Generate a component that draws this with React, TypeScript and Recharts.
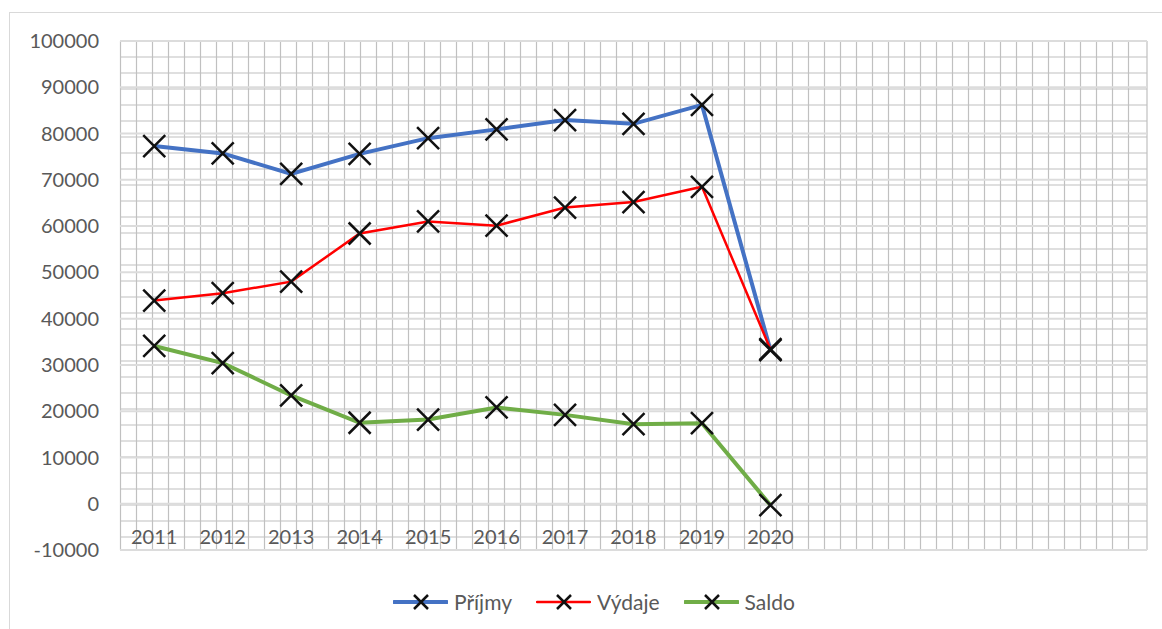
import React from 'react';
import { LineChart, Line, XAxis, YAxis, CartesianGrid } from 'recharts';

const years = ['2011', '2012', '2013', '2014', '2015', '2016', '2017', '2018', '2019', '2020'];
const emptySlots = 5;
const prijmy = [77300, 75700, 71300, 75600, 79000, 80900, 82900, 82100, 86200, 33200];
const vydaje = [43900, 45500, 48000, 58400, 61000, 60100, 64000, 65200, 68500, 33400];
const saldo = [34100, 30400, 23400, 17500, 18200, 20800, 19200, 17200, 17400, -300];
const yTicks = [-10000, 0, 10000, 20000, 30000, 40000, 50000, 60000, 70000, 80000, 90000, 100000];

const series = [
  { key: 'prijmy', name: 'Příjmy', color: '#4472C4', width: 4 },
  { key: 'vydaje', name: 'Výdaje', color: '#FF0000', width: 2.5 },
  { key: 'saldo', name: 'Saldo', color: '#70AD47', width: 4 },
];

const data = [
  ...years.map((year, i) => ({ year, prijmy: prijmy[i], vydaje: vydaje[i], saldo: saldo[i] })),
  ...Array.from({ length: emptySlots }, () => ({ year: '' })),
];

const FONT = 'Lato, "Open Sans", sans-serif';
const TEXT = '#595959';
const PAPER = 16;
const PLOT_W = 1027;
const HALF_BAND = PLOT_W / data.length / 2;

const CrossDot = (props: any) => {
  const { cx, cy, index } = props;
  if (cx == null || cy == null) return <g key={index} />;
  const r = 11;
  return (
    <path
      key={index}
      d={`M${cx - r},${cy - r}L${cx + r},${cy + r}M${cx - r},${cy + r}L${cx + r},${cy - r}`}
      stroke="#111"
      strokeWidth={2.5}
      fill="none"
    />
  );
};

const YearTick = ({ x, y, payload }: any) => (
  <text x={x} y={y - 6} textAnchor="middle" fill={TEXT} fontSize={20} fontFamily={FONT}>
    {payload.value}
  </text>
);

// graph-paper background, independent of the value scale
const paperRows = ({ offset }: any) => {
  const out: number[] = [];
  for (let y = offset.top; y < offset.top + offset.height - 4; y += PAPER) out.push(y);
  out.push(offset.top + offset.height);
  return out;
};
const paperCols = ({ offset }: any) => {
  const out: number[] = [];
  for (let x = offset.left + 0.5; x < offset.left + offset.width - 4; x += PAPER) out.push(x);
  out.push(offset.left + offset.width);
  return out;
};

const LegendIcon = ({ color, width }: { color: string; width: number }) => (
  <svg width={55} height={20} style={{ display: 'block' }}>
    <line x1={1} y1={10} x2={54} y2={10} stroke={color} strokeWidth={width} strokeLinecap="round" />
    <path d="M21,3L35,17M21,17L35,3" stroke="#111" strokeWidth={2.5} />
  </svg>
);

export default function App() {
  return (
    <div style={{ position: 'absolute', left: 0, top: 0, width: 1162, height: 629, overflow: 'hidden', background: '#fff' }}>
      <div
        style={{
          position: 'absolute',
          left: 9,
          top: 12,
          width: 2000,
          height: 2000,
          borderLeft: '1.5px solid #d9d9d9',
          borderTop: '1.5px solid #d9d9d9',
        }}
      />
      <div style={{ position: 'absolute', left: 0, top: 0 }}>
        <LineChart width={1162} height={629} data={data} margin={{ top: 41, right: 15, bottom: 78, left: 0 }}>
          <CartesianGrid
            stroke="#c0c0c0"
            strokeWidth={1.2}
            horizontalCoordinatesGenerator={paperRows}
            verticalCoordinatesGenerator={paperCols}
          />
          <CartesianGrid vertical={false} stroke="#dcdcdc" strokeWidth={2} />
          <XAxis
            dataKey="year"
            height={1}
            interval={0}
            padding={{ left: HALF_BAND, right: HALF_BAND }}
            axisLine={false}
            tickLine={false}
            tickSize={0}
            tickMargin={0}
            tick={<YearTick />}
          />
          <YAxis
            type="number"
            domain={[-10000, 100000]}
            ticks={yTicks}
            interval={0}
            width={120}
            axisLine={false}
            tickLine={false}
            tickSize={6}
            tickMargin={15}
            tick={{ fill: TEXT, fontSize: 20, fontFamily: FONT }}
          />
          {series.map((s) => (
            <Line
              key={s.key}
              type="linear"
              dataKey={s.key}
              name={s.name}
              stroke={s.color}
              strokeWidth={s.width}
              dot={CrossDot}
              activeDot={false}
              isAnimationActive={false}
            />
          ))}
        </LineChart>
      </div>
      <div
        style={{
          position: 'absolute',
          left: 393,
          top: 590,
          height: 24,
          display: 'flex',
          alignItems: 'center',
          fontFamily: FONT,
          fontSize: 21,
          color: TEXT,
        }}
      >
        {series.map((s) => (
          <div key={s.key} style={{ display: 'flex', alignItems: 'center', marginRight: 24 }}>
            <LegendIcon color={s.color} width={s.width} />
            <span style={{ marginLeft: 6, lineHeight: '24px' }}>{s.name}</span>
          </div>
        ))}
      </div>
    </div>
  );
}
